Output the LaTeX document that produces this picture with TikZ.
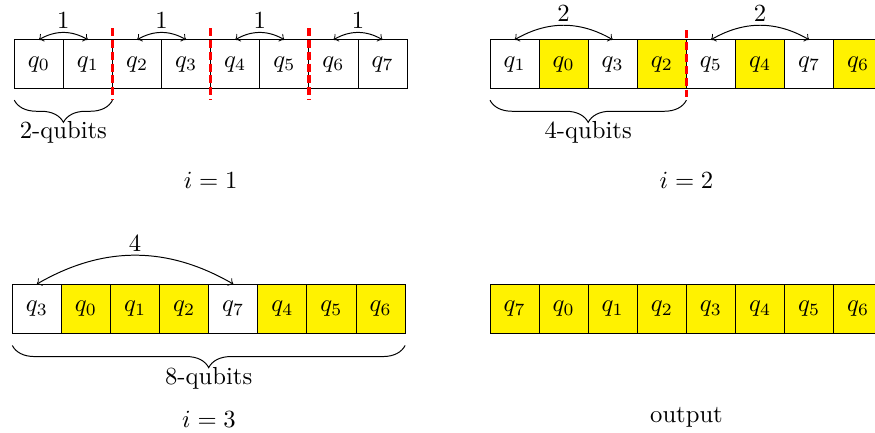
\documentclass[tikz,border=0pt]{standalone}
\usetikzlibrary{decorations.pathreplacing,calc}
\begin{document}
\begin{tikzpicture}[x=0.4057pt,y=-0.4057pt,
  qbox/.style={draw,minimum size=0.7cm,inner sep=0pt,outer sep=0pt,anchor=center},
  ybox/.style={qbox,fill=yellow},
  swaparc/.style={<->,bend left=30},
  arclabel/.style={above,inner sep=1.5pt},
  reddash/.style={red,line width=1.4pt,dash pattern=on 3.2pt off 1.6pt},
  bracedeco/.style={decorate,decoration={brace,mirror,amplitude=9pt}}]
\useasboundingbox (0,0) rectangle (875,433);
% panel 1
\foreach \k in {0,...,7}{
  \node[qbox] (a\k) at (14.3+24.55+49.1*\k,64.3) {$q_{\k}$};
}
\foreach \i/\j in {0/1,2/3,4/5,6/7}{
  \draw[swaparc] (a\i.north) to node[arclabel]{1} (a\j.north);
}
\foreach \k in {1,3,5}{
  \draw[reddash] ([yshift=4.7pt]a\k.north east) -- ([yshift=-4.4pt]a\k.south east);
}
\draw[bracedeco] ([yshift=-4.6pt]a0.south west) -- ([yshift=-4.6pt]a1.south east)
  node[midway,below,yshift=-8.5pt,inner sep=0pt] (b1) {2-qubits};
\node (l1) at (210.7,180) {$i=1$};
% panel 2
\foreach \k/\q/\s in {0/1/qbox,1/0/ybox,2/3/qbox,3/2/ybox,4/5/qbox,5/4/ybox,6/7/qbox,7/6/ybox}{
  \node[\s] (b\k) at (490+24.55+49.1*\k,64.3) {$q_{\q}$};
}
\draw[swaparc] (b0.north) to node[arclabel]{2} (b2.north);
\draw[swaparc] (b4.north) to node[arclabel]{2} (b6.north);
\draw[reddash] ([yshift=3.8pt]b3.north east) -- ([yshift=-4.6pt]b3.south east);
\draw[bracedeco] ([yshift=-4.6pt]b0.south west) -- ([yshift=-4.6pt]b3.south east)
  node[midway,below,yshift=-8.5pt,inner sep=0pt] (b2l) {4-qubits};
\node (l2) at (686.5,180) {$i=2$};
% panel 3
\foreach \k/\q/\s in {0/3/qbox,1/0/ybox,2/1/ybox,3/2/ybox,4/7/qbox,5/4/ybox,6/5/ybox,7/6/ybox}{
  \node[\s] (c\k) at (12.3+24.55+49.1*\k,308.6) {$q_{\q}$};
}
\draw[swaparc] (c0.north) to node[arclabel]{4} (c4.north);
\draw[bracedeco] ([yshift=-5pt]c0.south west) -- ([yshift=-5pt]c7.south east)
  node[midway,below,yshift=-8.5pt,inner sep=0pt] (b3l) {8-qubits};
\node (l3) at (209,419) {$i=3$};
% panel 4
\foreach \k/\q in {0/7,1/0,2/1,3/2,4/3,5/4,6/5,7/6}{
  \node[ybox] (d\k) at (490+24.55+49.1*\k,308.6) {$q_{\q}$};
}
\node (l4) at (686.5,417) {output};
\end{tikzpicture}
\end{document}
